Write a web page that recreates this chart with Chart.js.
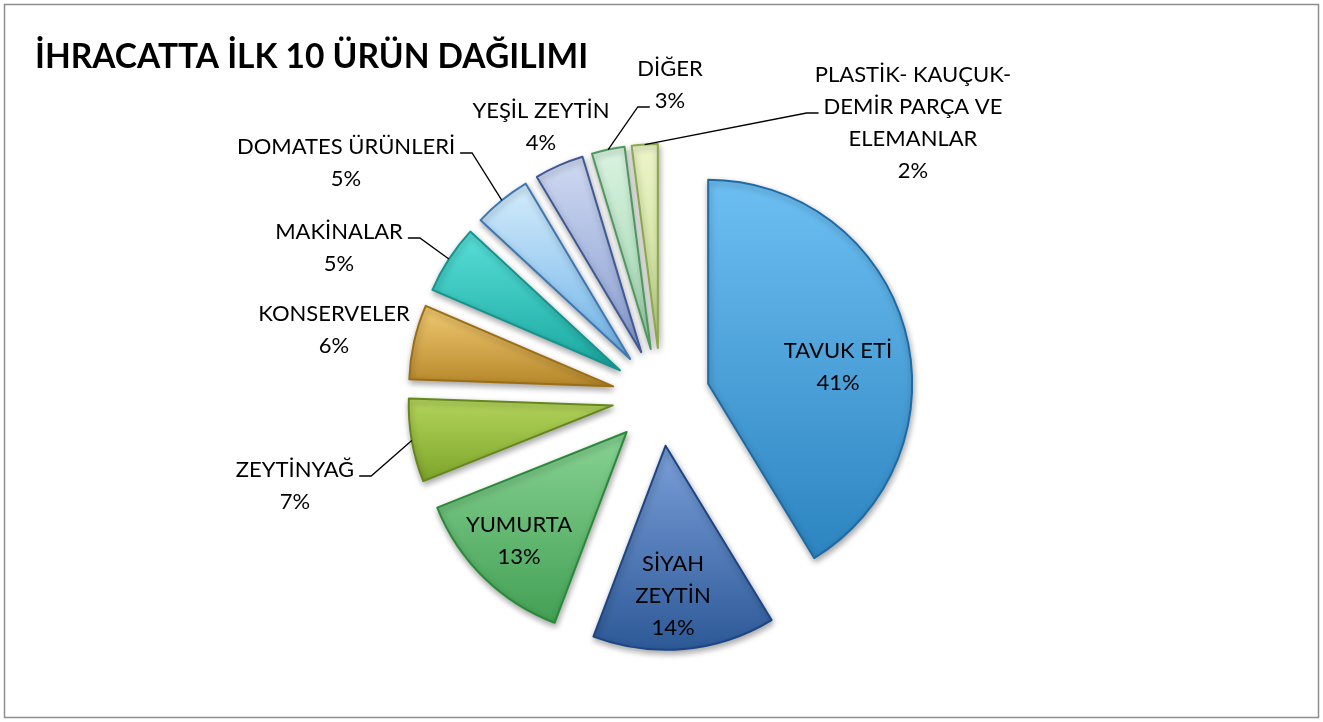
<!DOCTYPE html>
<html>
<head>
<meta charset="utf-8">
<title>İhracatta ilk 10 ürün dağılımı</title>
<script src="https://cdn.jsdelivr.net/npm/chart.js@4.4.1/dist/chart.umd.min.js"></script>
<style>
  html, body { margin: 0; padding: 0; background: #fff; }
  #wrap { width: 1323px; height: 722px; position: relative; }
</style>
</head>
<body>
<div id="wrap"><canvas id="pieChart"></canvas></div>
<script>
// chart data
const chartTitle = 'İHRACATTA İLK 10 ÜRÜN DAĞILIMI';
const categories = ['TAVUK ETİ', 'SİYAH ZEYTİN', 'YUMURTA', 'ZEYTİNYAĞ', 'KONSERVELER',
  'MAKİNALAR', 'DOMATES ÜRÜNLERİ', 'YEŞİL ZEYTİN', 'DİĞER', 'PLASTİK- KAUÇUK- DEMİR PARÇA VE ELEMANLAR'];
const shares = [41.3, 14.45, 13.2, 6.6, 5.9, 5.45, 4.55, 3.9, 2.6, 2.05];

// how the category names wrap on the chart
const labelLines = [['TAVUK ETİ'], ['SİYAH', 'ZEYTİN'], ['YUMURTA'], ['ZEYTİNYAĞ'], ['KONSERVELER'],
  ['MAKİNALAR'], ['DOMATES ÜRÜNLERİ'], ['YEŞİL ZEYTİN'], ['DİĞER'], ['PLASTİK- KAUÇUK-', 'DEMİR PARÇA VE', 'ELEMANLAR']];

// slice colours (gradient top / bottom, outline)
const topColors = ['#6dbff2', '#7b9fd9', '#88d293', '#b4d45c', '#f1ca72', '#58dfd8', '#d4ecfb', '#cfd9f1', '#daf3e1', '#ecf5c9'];
const bottomColors = ['#2c84c0', '#2d5997', '#43a054', '#7da52a', '#b6872a', '#19a8a0', '#6eb3e9', '#889dd1', '#9cd5ac', '#c6dc8e'];
const borderColors = ['#1f6aa5', '#1c4587', '#2a8a3a', '#65871c', '#9c6d12', '#15948e', '#3d78b5', '#3f5a96', '#4e9a5e', '#8ba84b'];

// label placement, relative to the pie centre
const labelOffsets = [[177, -30], [12, 199], [-142, 144], [-366, 89], [-327, -67],
  [-322, -149], [-315, -234], [-120, -270], [9, -312], [252, -274]];
const leaderLines = [null, null, null, { line: 0, side: 'right' }, null,
  { line: 0, side: 'right' }, { line: 0, side: 'right' }, null, { line: 1, side: 'left' }, { line: 1, side: 'left' }];

const pieRadius = 204;
const explode = 49;
const lineHeight = 32;
const labelFont = '22px Lato';

const total = shares.reduce((a, b) => a + b, 0);

function sliceGradient(context) {
  const chart = context.chart;
  const area = chart.chartArea;
  const i = context.dataIndex;
  if (i === undefined) return topColors[0];
  if (!area) return topColors[i];
  let before = 0;
  for (let k = 0; k < i; k++) before += shares[k];
  const a0 = -Math.PI / 2 + before / total * 2 * Math.PI;
  const a1 = a0 + shares[i] / total * 2 * Math.PI;
  const mid = (a0 + a1) / 2;
  const cy = (area.top + area.bottom) / 2 + Math.sin(mid) * explode;
  let minY = cy, maxY = cy;
  for (let s = 0; s <= 30; s++) {
    const y = cy + Math.sin(a0 + (a1 - a0) * s / 30) * pieRadius;
    minY = Math.min(minY, y);
    maxY = Math.max(maxY, y);
  }
  const g = chart.ctx.createLinearGradient(0, minY, 0, maxY);
  g.addColorStop(0, topColors[i]);
  g.addColorStop(1, bottomColors[i]);
  return g;
}

// title, frame, exploded slices with shadow, and the data labels
const decorPlugin = {
  id: 'decor',
  beforeDraw(chart) {
    const ctx = chart.ctx;
    ctx.save();
    ctx.strokeStyle = '#8e8e8e';
    ctx.lineWidth = 1.5;
    ctx.strokeRect(4.5, 4.5, chart.width - 9, chart.height - 9);
    ctx.fillStyle = '#000';
    ctx.font = 'bold 34px Lato';
    const w = ctx.measureText(chartTitle).width;
    const size = 34 * 553 / w;
    ctx.font = 'bold ' + size.toFixed(1) + 'px Lato';
    ctx.textBaseline = 'alphabetic';
    ctx.fillText(chartTitle, 35, 68);
    ctx.restore();
  },
  beforeDatasetsDraw(chart) {
    const meta = chart.getDatasetMeta(0);
    // pull every slice out along its middle angle
    meta.data.forEach(el => {
      const mid = (el.startAngle + el.endAngle) / 2;
      el.x += Math.cos(mid) * explode;
      el.y += Math.sin(mid) * explode;
    });
    const ctx = chart.ctx;
    ctx.save();
    ctx.shadowColor = 'rgba(0,0,0,0.35)';
    ctx.shadowBlur = 6;
    ctx.shadowOffsetX = 1;
    ctx.shadowOffsetY = 3;
  },
  afterDatasetsDraw(chart) {
    const ctx = chart.ctx;
    ctx.restore();
    const meta = chart.getDatasetMeta(0);
    meta.data.forEach(el => {
      const mid = (el.startAngle + el.endAngle) / 2;
      el.x -= Math.cos(mid) * explode;
      el.y -= Math.sin(mid) * explode;
    });

    const area = chart.chartArea;
    const cx = (area.left + area.right) / 2;
    const cy = (area.top + area.bottom) / 2;
    ctx.save();
    ctx.font = labelFont;
    ctx.fillStyle = '#000';
    ctx.textAlign = 'center';
    ctx.textBaseline = 'middle';
    meta.data.forEach((el, i) => {
      const pct = Math.round(shares[i] / total * 100) + '%';
      const lines = labelLines[i].concat([pct]);
      const lx = cx + labelOffsets[i][0];
      const ly = cy + labelOffsets[i][1];
      lines.forEach((t, k) => {
        ctx.fillText(t, lx, ly + (k - (lines.length - 1) / 2) * lineHeight);
      });
      const lead = leaderLines[i];
      if (lead) {
        const mid = (el.startAngle + el.endAngle) / 2;
        const ex = el.x + Math.cos(mid) * (explode + pieRadius);
        const ey = el.y + Math.sin(mid) * (explode + pieRadius);
        const t = lines[lead.line];
        const tw = ctx.measureText(t).width;
        const sy = ly + (lead.line - (lines.length - 1) / 2) * lineHeight + 6;
        const dir = lead.side === 'right' ? 1 : -1;
        const sx = lx + dir * (tw / 2 + 5);
        ctx.beginPath();
        ctx.strokeStyle = '#000';
        ctx.lineWidth = 1.3;
        ctx.moveTo(sx, sy);
        ctx.lineTo(sx + dir * 12, sy);
        ctx.lineTo(ex, ey);
        ctx.stroke();
      }
    });
    ctx.restore();
  }
};

const ctx = document.getElementById('pieChart').getContext('2d');
const pieChart = new Chart(ctx, {
  type: 'pie',
  data: {
    labels: categories,
    datasets: [{
      data: shares,
      backgroundColor: sliceGradient,
      borderColor: borderColors,
      borderWidth: 2,
      borderJoinStyle: 'round',
      offset: 0,
      hoverOffset: 0
    }]
  },
  options: {
    responsive: true,
    maintainAspectRatio: false,
    animation: false,
    radius: pieRadius,
    layout: { padding: { left: 0, right: 1, top: 80, bottom: 8 } },
    plugins: {
      legend: { display: false },
      title: { display: false },
      tooltip: { enabled: false }
    },
    events: []
  },
  plugins: [decorPlugin]
});
</script>
</body>
</html>
